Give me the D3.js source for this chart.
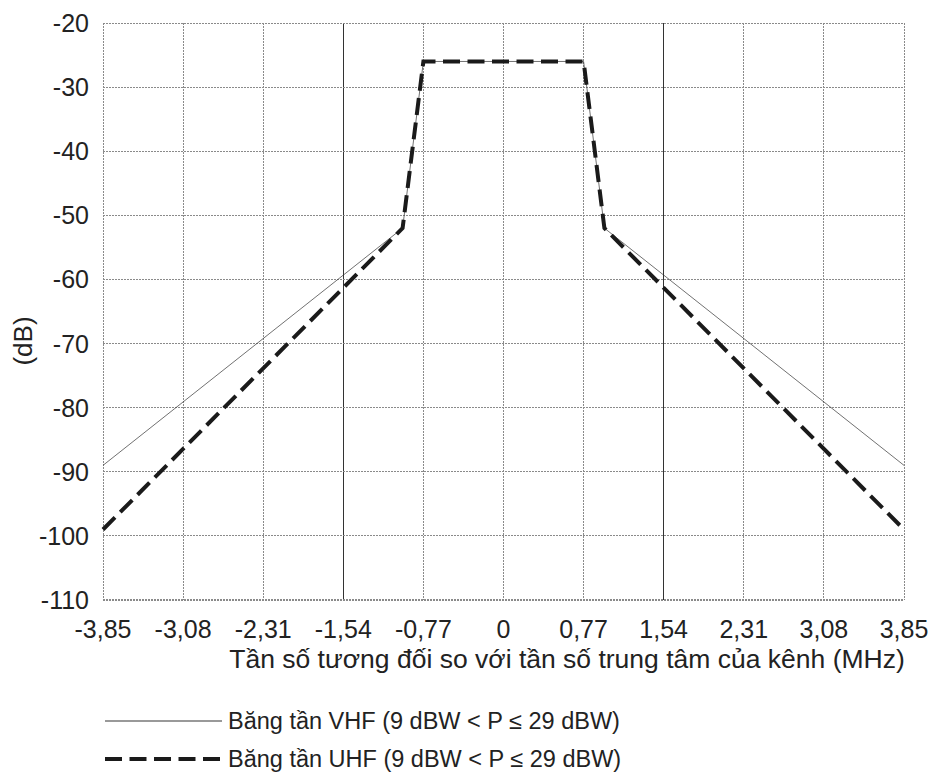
<!doctype html>
<html lang="vi">
<head>
    <meta charset="UTF-8">
    <title>Mặt nạ phổ</title>
    <script src="https://cdn.jsdelivr.net/npm/d3@7/dist/d3.min.js"></script>
    <style>
        body { margin: 0; background: #fff; }
        text { font-family: "Liberation Sans", Arial, sans-serif; fill: #222; }
    </style>
</head>
<body>
    <script>
        // tan so (MHz) va muc (dB)
        var freq = [-3.85, -0.97, -0.77, 0.77, 0.97, 3.85];
        var vhf = [-89, -52, -26, -26, -52, -89];
        var uhf = [-99, -52, -26, -26, -52, -99];

        var xTicks = [-3.85, -3.08, -2.31, -1.54, -0.77, 0, 0.77, 1.54, 2.31, 3.08, 3.85];
        var xTickLabels = ["-3,85", "-3,08", "-2,31", "-1,54", "-0,77", "0", "0,77", "1,54", "2,31", "3,08", "3,85"];
        var yTicks = [-20, -30, -40, -50, -60, -70, -80, -90, -100, -110];
        var solidX = [-1.54, 1.54];

        var seriesNames = ["Băng tần VHF (9 dBW < P ≤ 29 dBW)", "Băng tần UHF (9 dBW < P ≤ 29 dBW)"];

        var W = 934, H = 780,
            pLeft = 103, pRight = 904, pTop = 23, pBottom = 600;

        var svg = d3.select("body").append("svg")
            .attr("width", W)
            .attr("height", H);

        var x = d3.scaleLinear().domain([-3.85, 3.85]).range([pLeft, pRight]);
        var y = d3.scaleLinear().domain([-110, -20]).range([pBottom, pTop]);

        // luoi
        var grid = svg.append("g");
        grid.selectAll("line.gx")
            .data(xTicks)
            .enter().append("line")
            .attr("class", "gx")
            .attr("x1", function(d){ return x(d); })
            .attr("x2", function(d){ return x(d); })
            .attr("y1", pTop)
            .attr("y2", pBottom)
            .attr("stroke", function(d){ return solidX.indexOf(d) >= 0 ? "#333" : "#8a8a8a"; })
            .attr("stroke-width", 1)
            .attr("stroke-dasharray", function(d){ return solidX.indexOf(d) >= 0 ? null : "2,1"; })
            .attr("shape-rendering", "crispEdges");

        grid.selectAll("line.gy")
            .data(yTicks)
            .enter().append("line")
            .attr("class", "gy")
            .attr("x1", pLeft)
            .attr("x2", pRight)
            .attr("y1", function(d){ return y(d); })
            .attr("y2", function(d){ return y(d); })
            .attr("stroke", "#8a8a8a")
            .attr("stroke-width", function(d){ return d === -110 ? 2 : 1; })
            .attr("stroke-dasharray", "2,1")
            .attr("shape-rendering", "crispEdges");

        // nhan truc
        svg.selectAll("text.yt")
            .data(yTicks)
            .enter().append("text")
            .attr("class", "yt")
            .attr("x", 89)
            .attr("y", function(d){ return y(d); })
            .attr("dy", "0.36em")
            .attr("text-anchor", "end")
            .attr("font-size", 25)
            .text(function(d){ return d; });

        svg.selectAll("text.xt")
            .data(xTicks)
            .enter().append("text")
            .attr("class", "xt")
            .attr("x", function(d){ return x(d); })
            .attr("y", 638)
            .attr("text-anchor", "middle")
            .attr("font-size", 25)
            .text(function(d, i){ return xTickLabels[i]; });

        svg.append("text")
            .attr("x", 567)
            .attr("y", 668)
            .attr("text-anchor", "middle")
            .attr("font-size", 26.5)
            .text("Tần số tương đối so với tần số trung tâm của kênh (MHz)");

        svg.append("text")
            .attr("transform", "translate(32,341) rotate(-90)")
            .attr("text-anchor", "middle")
            .attr("font-size", 26)
            .text("(dB)");

        // duong
        var line = d3.line()
            .x(function(d){ return x(d[0]); })
            .y(function(d){ return y(d[1]); });

        svg.append("path")
            .datum(d3.zip(freq, vhf))
            .attr("d", line)
            .attr("fill", "none")
            .attr("stroke", "#333")
            .attr("stroke-width", 0.7);

        svg.append("path")
            .datum(d3.zip(freq, uhf))
            .attr("d", line)
            .attr("fill", "none")
            .attr("stroke", "#1a1a1a")
            .attr("stroke-width", 4)
            .attr("stroke-dasharray", "17,7.5");

        // chu giai
        var legend = svg.append("g");
        var styles = [
            { w: 1.5, c: "#777", dash: null },
            { w: 4, c: "#1a1a1a", dash: "17,7.5" }
        ];
        legend.selectAll("line")
            .data(seriesNames)
            .enter().append("line")
            .attr("x1", 105)
            .attr("x2", 222)
            .attr("y1", function(d, i){ return 721 + i * 38; })
            .attr("y2", function(d, i){ return 721 + i * 38; })
            .attr("stroke", function(d, i){ return styles[i].c; })
            .attr("stroke-width", function(d, i){ return styles[i].w; })
            .attr("stroke-dasharray", function(d, i){ return styles[i].dash; });

        legend.selectAll("text")
            .data(seriesNames)
            .enter().append("text")
            .attr("x", 228)
            .attr("y", function(d, i){ return 721 + i * 38; })
            .attr("dy", "0.36em")
            .attr("font-size", 23.5)
            .text(function(d){ return d; });
    </script>
</body>
</html>
